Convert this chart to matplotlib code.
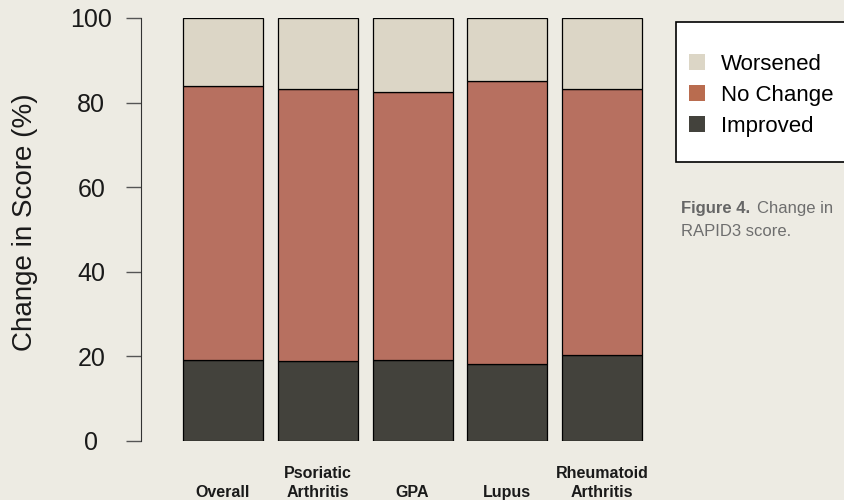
import matplotlib
matplotlib.use("Agg")
from matplotlib import pyplot as plt
from matplotlib.patches import Patch, Rectangle
from matplotlib.transforms import blended_transform_factory
import numpy as np

# groups along the x axis
groups = ["Overall", "Psoriatic\nArthritis", "GPA", "Lupus", "Rheumatoid\nArthritis"]
# share of patients (%)
improved = [19.1, 18.9, 19.1, 18.2, 20.2]
no_change = [64.9, 64.4, 63.5, 66.8, 63.1]
worsened = [16.0, 16.7, 17.4, 15.0, 16.7]

yticks = [0, 20, 40, 60, 80, 100]

bg = "#edebe3"
c_improved = "#43423c"
c_nochange = "#b77060"
c_nochange_key = "#b96c4f"
c_worsened = "#dcd6c6"

plt.rcParams["font.family"] = ["Liberation Sans", "DejaVu Sans"]

fig = plt.figure(figsize=(8.44, 5), dpi=100, facecolor=bg)

# axes placed in pixels: spine at x=141, y=0 at 440.7, y=100 at 18
W, H = 844, 500
left_px, right_px = 141, 660
bot_px, top_px = 440.7, 18
ax = fig.add_axes([left_px / W, 1 - bot_px / H, (right_px - left_px) / W, (bot_px - top_px) / H])
ax.set_facecolor(bg)

step = 94.75
x = np.arange(len(groups))
ax.set_xlim(-(223 - left_px) / step, (right_px - 223) / step)
ax.set_ylim(0, 100)

bw = 80 / step
ax.bar(x, improved, width=bw, color=c_improved, edgecolor="black", linewidth=0.9)
ax.bar(x, no_change, width=bw, bottom=improved, color=c_nochange, edgecolor="black", linewidth=0.9)
base = np.array(improved) + np.array(no_change)
ax.bar(x, worsened, width=bw, bottom=base, color=c_worsened, edgecolor="black", linewidth=0.9)

for s in ["top", "right", "bottom"]:
    ax.spines[s].set_visible(False)
ax.spines["left"].set_bounds(0, 100)
ax.spines["left"].set_color("#333333")
ax.set_xticks([])
ax.set_yticks(yticks)
ax.tick_params(axis="y", length=10.8, width=1, color="#555555", labelsize=18, pad=25, labelcolor="#1a1a1a")
for lab in ax.get_yticklabels():
    lab.set_ha("center")

fig.text(25 / W, 1 - 222 / H, "Change in Score (%)", rotation=90, ha="center", va="center",
         fontsize=20, color="#1a1a1a")

# group names under the bars, bottom lines aligned
tr = blended_transform_factory(ax.transData, fig.transFigure)
for xi, g in zip(x, groups):
    ax.text(xi, 1 - 497 / H, g, transform=tr, ha="center", va="baseline", fontsize=11.5,
            fontweight="bold", color="#1a1a1a", linespacing=1.3)

# legend box
fig.patches.append(Rectangle((676 / W, 1 - 161.7 / H), (W + 5 - 676) / W, (161.7 - 21.7) / H,
                             transform=fig.transFigure, facecolor="white", edgecolor="black",
                             linewidth=1.2, zorder=1))
handles = [Patch(facecolor=c_worsened), Patch(facecolor=c_nochange_key), Patch(facecolor=c_improved)]
fig.legend(handles, ["Worsened", "No Change", "Improved"], loc="upper left",
           bbox_to_anchor=(689 / W, 1 - 54 / H), frameon=False, fontsize=16,
           handlelength=0.72, handleheight=0.72, handletextpad=0.72, labelspacing=0.44,
           borderpad=0, borderaxespad=0)

# caption
fig.text(681 / W, 1 - 209 / H, "Figure 4.", fontsize=12, fontweight="bold", color="#666666", va="center")
fig.text(757 / W, 1 - 209 / H, "Change in", fontsize=12, color="#6e6e6e", va="center")
fig.text(681 / W, 1 - 231 / H, "RAPID3 score.", fontsize=12, color="#6e6e6e", va="center")

fig.savefig("out.png", dpi=100, facecolor=bg)
